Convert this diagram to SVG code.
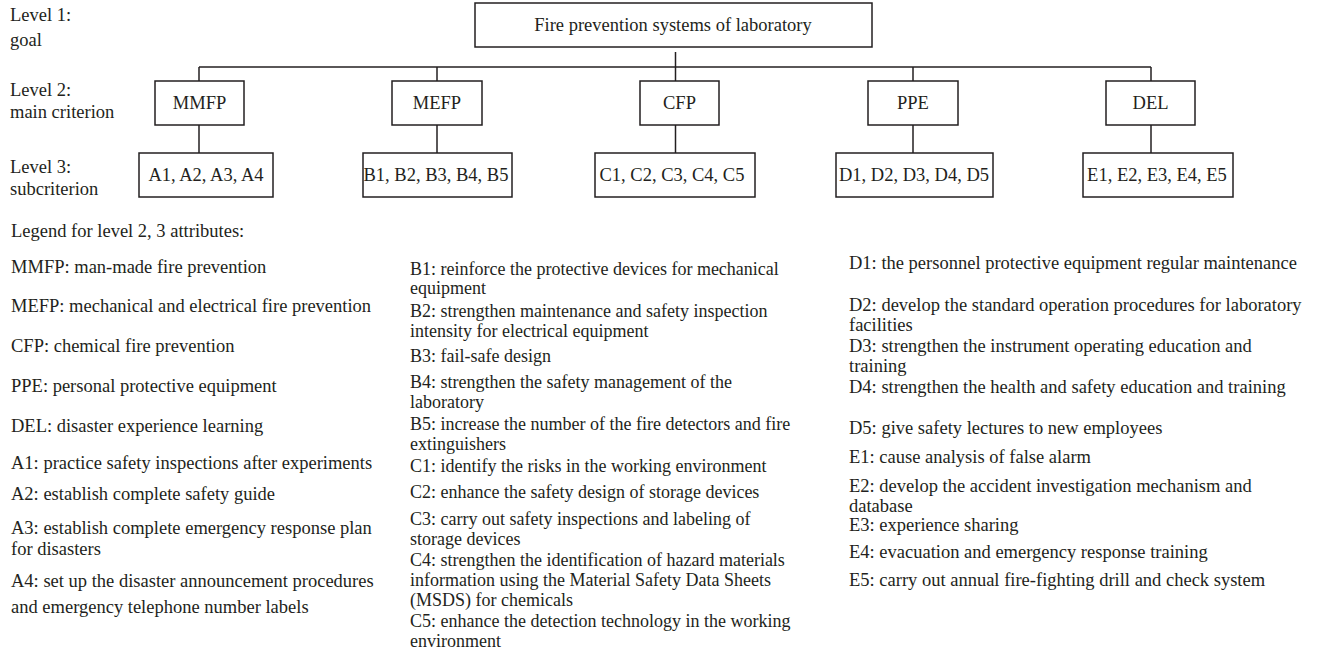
<svg xmlns="http://www.w3.org/2000/svg" width="1321" height="652" viewBox="0 0 1321 652">
<style>
text{font-family:"Liberation Serif","Times New Roman",serif;font-size:18.5px;fill:#231f20}
.c{text-anchor:middle}
.s{font-size:18px}
.box rect{fill:#fff;stroke:#231f20;stroke-width:1.5}
#connectors line{stroke:#231f20;stroke-width:1.5}
</style>
<rect width="1321" height="652" fill="#fff"/>
<g id="connectors">
<line x1="675.5" y1="52" x2="675.5" y2="81"/>
<line x1="199" y1="67" x2="1151" y2="67"/>
<line x1="199" y1="67" x2="199" y2="81"/>
<line x1="437" y1="67" x2="437" y2="81"/>
<line x1="913" y1="67" x2="913" y2="81"/>
<line x1="1151" y1="67" x2="1151" y2="81"/>
<line x1="199" y1="125" x2="199" y2="153"/>
<line x1="437" y1="125" x2="437" y2="153"/>
<line x1="675.5" y1="125" x2="675.5" y2="153"/>
<line x1="913" y1="125" x2="913" y2="153"/>
<line x1="1151" y1="125" x2="1151" y2="153"/>
</g>
<g id="levels">
<text x="10" y="21">Level 1:</text>
<text x="10" y="46">goal</text>
<text x="10" y="96">Level 2:</text>
<text x="10" y="118">main criterion</text>
<text x="10" y="173">Level 3:</text>
<text x="10" y="195">subcriterion</text>
</g>
<g id="goal" class="box"><rect x="475" y="3" width="397" height="44"/><text class="c" x="673" y="31">Fire prevention systems of laboratory</text></g>
<g id="mmfp" class="box"><rect x="155" y="81" width="89" height="44"/><text class="c" x="199.5" y="109">MMFP</text></g>
<g id="mefp" class="box"><rect x="392" y="81" width="90" height="44"/><text class="c" x="437" y="109">MEFP</text></g>
<g id="cfp" class="box"><rect x="640" y="81" width="79" height="44"/><text class="c" x="679.5" y="109">CFP</text></g>
<g id="ppe" class="box"><rect x="868" y="81" width="90" height="44"/><text class="c" x="913" y="109">PPE</text></g>
<g id="del" class="box"><rect x="1106" y="81" width="89" height="44"/><text class="c" x="1150.5" y="109">DEL</text></g>
<g id="sub-a" class="box"><rect x="139" y="153" width="134" height="44"/><text class="c" x="206" y="181">A1, A2, A3, A4</text></g>
<g id="sub-b" class="box"><rect x="363" y="153" width="149" height="44"/><text class="c" x="436" y="181">B1, B2, B3, B4, B5</text></g>
<g id="sub-c" class="box"><rect x="595" y="153" width="160" height="44"/><text class="c" x="672" y="181">C1, C2, C3, C4, C5</text></g>
<g id="sub-d" class="box"><rect x="836" y="153" width="157" height="44"/><text class="c" x="914" y="181">D1, D2, D3, D4, D5</text></g>
<g id="sub-e" class="box"><rect x="1083" y="153" width="150" height="44"/><text class="c" x="1157" y="181">E1, E2, E3, E4, E5</text></g>
<g id="legend-col1">
<text x="11" y="237">Legend for level 2, 3 attributes:</text>
<text x="11" y="273">MMFP: man-made fire prevention</text>
<text x="11" y="312">MEFP: mechanical and electrical fire prevention</text>
<text x="11" y="352">CFP: chemical fire prevention</text>
<text x="11" y="392">PPE: personal protective equipment</text>
<text x="11" y="432">DEL: disaster experience learning</text>
<text x="11" y="469">A1: practice safety inspections after experiments</text>
<text x="11" y="500">A2: establish complete safety guide</text>
<text x="11" y="534">A3: establish complete emergency response plan</text>
<text x="11" y="555">for disasters</text>
<text x="11" y="587">A4: set up the disaster announcement procedures</text>
<text x="11" y="613">and emergency telephone number labels</text>
</g>
<g id="legend-col2">
<text class="s" x="410" y="275">B1: reinforce the protective devices for mechanical</text>
<text class="s" x="410" y="294">equipment</text>
<text class="s" x="410" y="317">B2: strengthen maintenance and safety inspection</text>
<text class="s" x="410" y="337">intensity for electrical equipment</text>
<text class="s" x="410" y="362">B3: fail-safe design</text>
<text class="s" x="410" y="388">B4: strengthen the safety management of the</text>
<text class="s" x="410" y="408">laboratory</text>
<text class="s" x="410" y="430">B5: increase the number of the fire detectors and fire</text>
<text class="s" x="410" y="450">extinguishers</text>
<text class="s" x="410" y="472">C1: identify the risks in the working environment</text>
<text class="s" x="410" y="498">C2: enhance the safety design of storage devices</text>
<text class="s" x="410" y="525">C3: carry out safety inspections and labeling of</text>
<text class="s" x="410" y="545">storage devices</text>
<text class="s" x="410" y="566">C4: strengthen the identification of hazard materials</text>
<text class="s" x="410" y="586">information using the Material Safety Data Sheets</text>
<text class="s" x="410" y="606">(MSDS) for chemicals</text>
<text class="s" x="410" y="627">C5: enhance the detection technology in the working</text>
<text class="s" x="410" y="647">environment</text>
</g>
<g id="legend-col3">
<text x="849" y="269">D1: the personnel protective equipment regular maintenance</text>
<text x="849" y="311">D2: develop the standard operation procedures for laboratory</text>
<text x="849" y="331">facilities</text>
<text x="849" y="352">D3: strengthen the instrument operating education and</text>
<text x="849" y="372">training</text>
<text x="849" y="393">D4: strengthen the health and safety education and training</text>
<text x="849" y="434">D5: give safety lectures to new employees</text>
<text x="849" y="463">E1: cause analysis of false alarm</text>
<text x="849" y="492">E2: develop the accident investigation mechanism and</text>
<text x="849" y="512">database</text>
<text x="849" y="531">E3: experience sharing</text>
<text x="849" y="558">E4: evacuation and emergency response training</text>
<text x="849" y="586">E5: carry out annual fire-fighting drill and check system</text>
</g>
</svg>
